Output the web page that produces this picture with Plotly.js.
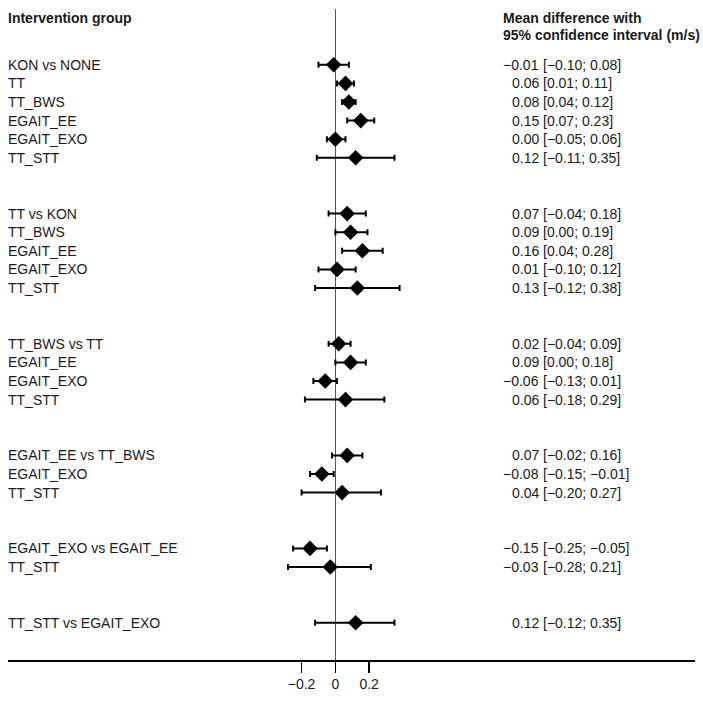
<!DOCTYPE html>
<html>
<head>
<meta charset="utf-8">
<script src="https://cdn.plot.ly/plotly-3.0.1.min.js"></script>
<style>
  html, body { margin: 0; padding: 0; background: #fff; }
  #grafica { width: 703px; height: 702px; }
</style>
</head>
<body>
<div id="grafica"></div>
<script>
// one entry per comparison, grouped by reference arm
const etiquetas = [
  'KON vs NONE', 'TT', 'TT_BWS', 'EGAIT_EE', 'EGAIT_EXO', 'TT_STT',
  'TT vs KON', 'TT_BWS', 'EGAIT_EE', 'EGAIT_EXO', 'TT_STT',
  'TT_BWS vs TT', 'EGAIT_EE', 'EGAIT_EXO', 'TT_STT',
  'EGAIT_EE vs TT_BWS', 'EGAIT_EXO', 'TT_STT',
  'EGAIT_EXO vs EGAIT_EE', 'TT_STT',
  'TT_STT vs EGAIT_EXO'
];
const grupos = [1, 1, 1, 1, 1, 1, 2, 2, 2, 2, 2, 3, 3, 3, 3, 4, 4, 4, 5, 5, 6];
const medias = [-0.01, 0.06, 0.08, 0.15, 0.00, 0.12, 0.07, 0.09, 0.16, 0.01, 0.13,
  0.02, 0.09, -0.06, 0.06, 0.07, -0.08, 0.04, -0.15, -0.03, 0.12];
const inferior = [-0.10, 0.01, 0.04, 0.07, -0.05, -0.11, -0.04, 0.00, 0.04, -0.10, -0.12,
  -0.04, 0.00, -0.13, -0.18, -0.02, -0.15, -0.20, -0.25, -0.28, -0.12];
const superior = [0.08, 0.11, 0.12, 0.23, 0.06, 0.35, 0.18, 0.19, 0.28, 0.12, 0.38,
  0.09, 0.18, 0.01, 0.29, 0.16, -0.01, 0.27, -0.05, 0.21, 0.35];
const ticksX = [-0.2, 0, 0.2];

const fuente = 'Liberation Sans, Arial, sans-serif';
const colorTexto = '#1a1a1a';

// two empty rows between groups
const filas = etiquetas.map((_, i) => i + 2 * (grupos[i] - 1));

function fmt(v) {
  return v.toFixed(2).replace('-', '\u2212');
}

const traza = {
  x: medias,
  y: filas,
  type: 'scatter',
  mode: 'markers',
  marker: { symbol: 'diamond', size: 12, color: '#000' },
  error_x: {
    type: 'data',
    symmetric: false,
    array: superior.map((s, i) => s - medias[i]),
    arrayminus: inferior.map((l, i) => medias[i] - l),
    color: '#000',
    thickness: 2,
    width: 3
  },
  hoverinfo: 'skip'
};

const xIzq = -0.003;
const xMedia = 0.7764;
const xCabecera = 0.7171;

const anotaciones = [];
etiquetas.forEach((et, i) => {
  anotaciones.push({
    xref: 'paper', yref: 'y', x: xIzq, y: filas[i],
    xanchor: 'left', yanchor: 'middle', showarrow: false,
    text: et, font: { family: fuente, size: 14, color: colorTexto }
  });
  anotaciones.push({
    xref: 'paper', yref: 'y', x: xMedia, y: filas[i],
    xanchor: 'right', yanchor: 'middle', showarrow: false,
    text: fmt(medias[i]), font: { family: fuente, size: 14, color: colorTexto }
  });
  anotaciones.push({
    xref: 'paper', yref: 'y', x: xMedia, y: filas[i],
    xanchor: 'left', yanchor: 'middle', showarrow: false,
    text: '[' + fmt(inferior[i]) + '; ' + fmt(superior[i]) + ']',
    font: { family: fuente, size: 14, color: colorTexto }
  });
});

anotaciones.push(
  {
    xref: 'paper', yref: 'y', x: xIzq, y: -2.52, xanchor: 'left', yanchor: 'middle',
    showarrow: false, text: '<b>Intervention group</b>',
    font: { family: fuente, size: 14, color: colorTexto }
  },
  {
    xref: 'paper', yref: 'y', x: xCabecera, y: -2.5, xanchor: 'left', yanchor: 'middle',
    showarrow: false, text: '<b>Mean difference with</b>',
    font: { family: fuente, size: 14, color: colorTexto }
  },
  {
    xref: 'paper', yref: 'y', x: xCabecera, y: -1.6, xanchor: 'left', yanchor: 'middle',
    showarrow: false, text: '<b>95% confidence interval (m/s)</b>',
    font: { family: fuente, size: 14, color: colorTexto }
  }
);

const layout = {
  width: 703,
  height: 702,
  margin: { l: 8, r: 8, t: 9, b: 42 },
  paper_bgcolor: '#fff',
  plot_bgcolor: '#fff',
  showlegend: false,
  font: { family: fuente, size: 14, color: colorTexto },
  xaxis: {
    range: [-1.937, 2.128],
    tickvals: ticksX,
    ticktext: ticksX.map(t => t === 0 ? '0' : fmt(t).replace(/0$/, '')),
    ticks: 'outside',
    ticklen: 11,
    tickwidth: 1.5,
    tickcolor: '#000',
    showline: true,
    linecolor: '#000',
    linewidth: 1.5,
    showgrid: false,
    zeroline: true,
    zerolinecolor: '#555',
    zerolinewidth: 1.5,
    tickfont: { family: fuente, size: 14, color: colorTexto },
    fixedrange: true
  },
  yaxis: {
    range: [32, -3],
    visible: false,
    showgrid: false,
    zeroline: false,
    fixedrange: true
  },
  annotations: anotaciones
};

Plotly.newPlot('grafica', [traza], layout, { displayModeBar: false, staticPlot: true });
</script>
</body>
</html>
